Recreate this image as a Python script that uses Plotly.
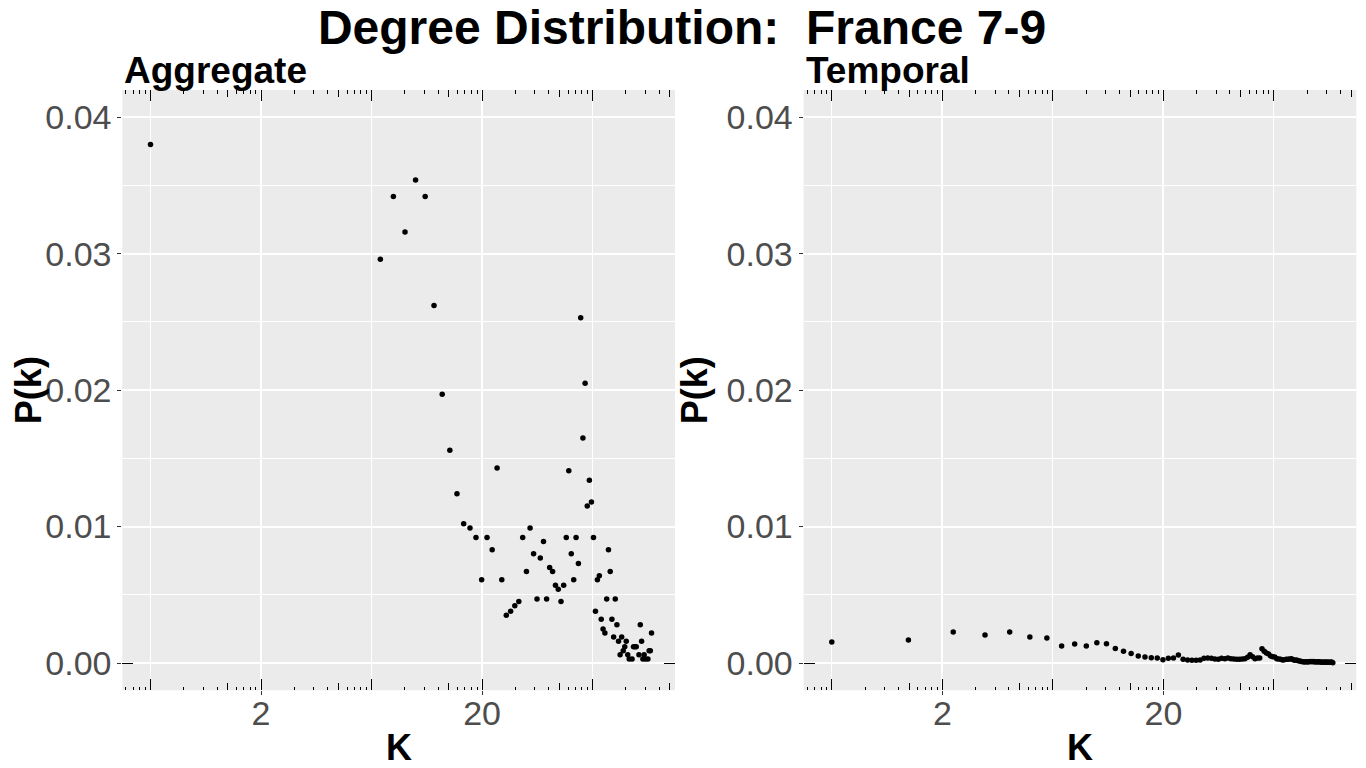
import numpy as np
import plotly.graph_objects as go

# degree K and P(k), aggregate network
k_agg = [1, 8, 9, 10, 11, 12, 13, 14, 15, 16, 17, 18, 19, 20, 21, 22, 23, 24, 25,
         26, 27, 28, 29, 30, 31, 32, 33, 34, 35, 36, 37, 38, 39, 40, 41, 42, 43,
         44, 45, 46, 47, 48, 49, 50, 51, 52, 53, 54, 55, 56, 57, 58, 59, 60, 61,
         62, 63, 64, 65, 66, 67, 68, 69, 70, 71, 72, 73, 74, 75, 76, 78, 79, 80,
         81, 83, 84, 85, 86, 87, 88, 90, 91, 92, 93]
p_agg = [0.0380, 0.0296, 0.0342, 0.0316, 0.0354, 0.0342, 0.0262, 0.0197, 0.0156,
         0.0124, 0.0102, 0.0099, 0.0092, 0.0061, 0.0092, 0.0083, 0.0143, 0.0061,
         0.0035, 0.0038, 0.0042, 0.0045, 0.0092, 0.0067, 0.0099, 0.0080, 0.0047,
         0.0077, 0.0089, 0.0047, 0.0070, 0.0067, 0.0057, 0.0054, 0.0045, 0.0057,
         0.0092, 0.0141, 0.0080, 0.0061, 0.0092, 0.0073, 0.0253, 0.0165, 0.0205,
         0.0115, 0.0134, 0.0118, 0.0092, 0.0038, 0.0061, 0.0064, 0.0032, 0.0025,
         0.0022, 0.0047, 0.0083, 0.0067, 0.0032, 0.0019, 0.0047, 0.0028, 0.0016,
         0.0006, 0.0019, 0.0009, 0.0012, 0.0016, 0.0006, 0.0003, 0.0003, 0.0012,
         0.0012, 0.0012, 0.0006, 0.0028, 0.0016, 0.0003, 0.0006, 0.0003, 0.0003,
         0.0009, 0.0009, 0.0022]

# temporal network
k_tmp = list(range(1, 94))
p_tmp = [0.00154, 0.00169, 0.00227, 0.00205, 0.00227, 0.00191, 0.00183, 0.00125,
         0.00139, 0.00125, 0.00149, 0.00141, 0.00106, 0.00086, 0.00069, 0.00052,
         0.00044, 0.00039, 0.00037, 0.00024, 0.00034, 0.00037, 0.00059, 0.00027,
         0.00022, 0.00020, 0.00020, 0.00022, 0.00034, 0.00037, 0.00034, 0.00029,
         0.00027, 0.00034, 0.00032, 0.00037, 0.00032, 0.00029, 0.00027, 0.00027,
         0.00029, 0.00032, 0.00042, 0.00061, 0.00046, 0.00032, 0.00037, 0.00037,
         0.00105, 0.00086, 0.00073, 0.00066, 0.00051, 0.00046, 0.00044, 0.00032,
         0.00029, 0.00027, 0.00022, 0.00024, 0.00027, 0.00027, 0.00029, 0.00032,
         0.00024, 0.00020, 0.00022, 0.00017, 0.00015, 0.00012, 0.00010, 0.00007,
         0.00010, 0.00007, 0.00010, 0.00012, 0.00010, 0.00012, 0.00007, 0.00010,
         0.00007, 0.00010, 0.00007, 0.00005, 0.00007, 0.00005, 0.00007, 0.00005,
         0.00007, 0.00005, 0.00005, 0.00007, 0.00002]

x_tick_vals = [np.e, np.e ** 3]
x_tick_text = ['2', '20']
y_tick_vals = [0.00, 0.01, 0.02, 0.03, 0.04]

panel_titles = ['Aggregate', 'Temporal']
panels = [(k_agg, p_agg), (k_tmp, p_tmp)]

FONT = 'Liberation Sans, Arial, sans-serif'
GREY = '#4D4D4D'

# page body has an 8px margin, so the figure is 1358x760 placed at (8, 8)
W, H, OFF = 1358, 760, 8


def fx(px):
    return (px - OFF) / W


def fy(py):
    return 1 - (py - OFF) / H


c_range = [-0.255, 4.745]          # in ln(K)
log_range = [c / np.log(10) for c in c_range]
y_range = [-0.002, 0.042]

# annotation_logticks positions (ln(K) coordinates read as log10)
long_t = [0, 1, 2, 3, 4]
mid_t = [d + np.log10(5) for d in range(-1, 5)]
short_t = [d + np.log10(m) for d in range(-1, 5) for m in (2, 3, 4, 6, 7, 8, 9)]
mid_t = [v for v in mid_t if c_range[0] < v < c_range[1]]
short_t = [v for v in short_t if c_range[0] < v < c_range[1]]

x_doms = [[fx(122.3), fx(675.0)], [fx(803.6), fx(1356.3)]]
y_dom = [fy(690.3), fy(90)]


def name(a, n):
    return f'{a}axis' if n == 1 else f'{a}axis{n}'


def ref(a, n):
    return a if n == 1 else f'{a}{n}'


fig = go.Figure()
layout = {}
annotations = []

for p, (kv, pv) in enumerate(panels):
    xd, xl, xmid, xs = 4 * p + 1, 4 * p + 2, 4 * p + 3, 4 * p + 4
    ym, yz = 2 * p + 1, 2 * p + 2

    # data axes
    layout[name('x', xd)] = dict(
        domain=x_doms[p], anchor=ref('y', ym), type='log', range=log_range,
        tickmode='array', tickvals=x_tick_vals, ticktext=x_tick_text,
        ticks='outside', ticklen=4, tickcolor='#333333', tickwidth=1,
        tickfont=dict(family=FONT, size=34, color=GREY), ticklabelstandoff=-11,
        showgrid=True, gridcolor='white', gridwidth=1.6, zeroline=False,
        showline=False, automargin=False)
    layout[name('y', ym)] = dict(
        domain=y_dom, anchor=ref('x', xd), range=y_range,
        tickmode='array', tickvals=y_tick_vals, tickformat='.2f',
        ticks='outside', ticklen=4, tickcolor='#333333', tickwidth=1,
        tickfont=dict(family=FONT, size=34, color=GREY), ticklabelstandoff=-1,
        showgrid=True, gridcolor='white', gridwidth=1.6, zeroline=False,
        showline=False, automargin=False,
        minor=dict(dtick=0.005, showgrid=True, gridcolor='white', gridwidth=1),
        title=dict(text='P(k)', standoff=8,
                   font=dict(family=FONT, size=36, color='black', weight='bold')))

    # log ticks drawn on overlaid axes
    tick_ax = dict(type='linear', range=c_range, showgrid=False, zeroline=False,
                   showticklabels=False, ticks='inside', tickcolor='black',
                   tickwidth=1, mirror='ticks', anchor=ref('y', ym),
                   overlaying=ref('x', xd), tickmode='array', automargin=False)
    layout[name('x', xl)] = dict(tick_ax, tickvals=long_t, ticklen=11,
                                 showgrid=True, gridcolor='white', gridwidth=1)
    layout[name('x', xmid)] = dict(tick_ax, tickvals=mid_t, ticklen=7)
    layout[name('x', xs)] = dict(tick_ax, tickvals=short_t, ticklen=3.5)
    layout[name('y', yz)] = dict(
        range=y_range, anchor=ref('x', xd), overlaying=ref('y', ym),
        tickmode='array', tickvals=[0], showticklabels=False, showgrid=False,
        zeroline=False, ticks='inside', ticklen=11, tickcolor='black',
        tickwidth=1, mirror='ticks', automargin=False)

    fig.add_trace(go.Scatter(
        x=kv, y=pv, mode='markers', xaxis=ref('x', xd), yaxis=ref('y', ym),
        marker=dict(color='black', size=5.5), showlegend=False))

    # empty traces so the overlaid tick axes get drawn
    for xa, ya in [(xl, ym), (xmid, ym), (xs, ym)]:
        fig.add_trace(go.Scatter(x=[None], y=[None], xaxis=ref('x', xa),
                                 yaxis=ref('y', ya), showlegend=False,
                                 hoverinfo='skip'))
    fig.add_trace(go.Scatter(x=[None], y=[None], xaxis=ref('x', xd),
                             yaxis=ref('y', yz), showlegend=False,
                             hoverinfo='skip'))

    annotations.append(dict(
        text=panel_titles[p], x=x_doms[p][0], y=y_dom[1], xref='paper',
        yref='paper', xanchor='left', yanchor='bottom', showarrow=False,
        yshift=-3, font=dict(family=FONT, size=37, color='black', weight='bold')))
    annotations.append(dict(
        text='K', x=sum(x_doms[p]) / 2, y=fy(747), xref='paper',
        yref='paper', xanchor='center', yanchor='middle', showarrow=False,
        font=dict(family=FONT, size=36, color='black', weight='bold')))

fig.update_layout(
    width=W, height=H,
    margin=dict(l=0, r=0, t=0, b=0),
    paper_bgcolor='white', plot_bgcolor='#EBEBEB',
    font=dict(family=FONT),
    title=dict(text='Degree Distribution:\u00a0 France 7-9', x=fx(682),
               xanchor='center', y=fy(10), yanchor='top',
               font=dict(family=FONT, size=48, color='black', weight='bold')),
    annotations=annotations,
    **layout)

fig.write_html('out.html')
